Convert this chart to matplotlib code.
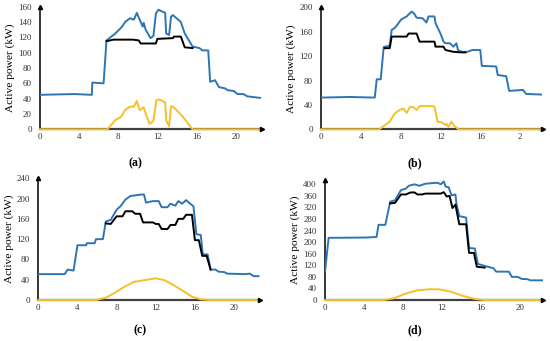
import matplotlib
matplotlib.use("Agg")
import matplotlib.pyplot as plt

plt.rcParams['font.family'] = ['Liberation Serif', 'DejaVu Serif']

# ---- data (hours, kW) ----
# panel (a)
a_t_blue = [0, 3.5, 5.3, 5.35, 6.5, 6.8, 7.7, 8.4, 8.7, 9.2, 9.6, 9.9, 10.2, 10.5, 10.6, 10.8,
            11.3, 11.6, 11.85, 12.1, 12.8, 12.9, 13.2, 13.4, 13.6, 14.4, 14.8, 15.6, 16.3, 16.6,
            17.2, 17.4, 17.9, 18.3, 18.9, 19.2, 19.8, 20.2, 20.8, 21.2, 22.5]
a_blue = [45, 46, 45, 61, 60, 116, 125, 134, 140, 145, 143, 152, 143, 134, 139, 130,
          119, 122, 151, 156, 152, 125, 123, 147, 149, 140, 125, 108, 106, 103,
          103, 62, 64, 55, 53.5, 51, 50, 46, 46, 43, 41]
a_t_black = [6.8, 7.5, 9.5, 10.1, 10.3, 11.85, 12.0, 13.6, 13.7, 14.4, 14.8, 15.6]
a_black = [115, 117, 117, 116, 112, 112, 118, 119, 121, 121, 107, 106]
a_t_pv = [0, 6.9, 7.7, 8.3, 8.7, 9.2, 9.6, 9.9, 10.2, 10.6, 10.8, 11.2, 11.6, 11.9, 12.2,
          12.8, 12.9, 13.2, 13.4, 13.6, 14.6, 15.6, 22.6]
a_pv = [0, 0, 12, 16.5, 25, 29.6, 29.6, 37, 25, 28.7, 21, 7, 11, 38, 39,
        35, 12, 4, 30, 29.6, 16.5, 0, 0]

# panel (b)
b_t_blue = [0, 2.9, 5.4, 5.6, 6.0, 6.3, 6.9, 7.1, 7.4, 7.7, 8.05, 8.6, 9.1, 9.35, 9.6, 10.2,
            10.6, 10.8, 11.4, 11.5, 12.0, 12.3, 12.5, 12.96, 13.3, 13.6, 13.76, 14.1, 14.7,
            15.2, 16.0, 16.15, 17.6, 17.75, 18.6, 18.9, 20.3, 20.6, 22.1]
b_blue = [52, 53, 52, 82, 82, 135, 137, 163, 166, 172, 180, 185, 193, 190, 183, 182,
          175, 185, 185, 174, 157, 144, 141, 141, 135.5, 141, 130, 127, 127,
          130, 130, 104, 103, 89, 87, 63, 64.5, 58, 57]
b_t_black = [6.4, 6.9, 7.1, 8.6, 8.8, 9.6, 9.9, 11.4, 11.5, 12.3, 12.5, 13.3, 14.2, 14.5]
b_black = [133, 133, 152, 152, 157, 157, 143.7, 143.7, 135.5, 135.5, 130, 127, 126, 126]
b_t_pv = [0, 5.85, 6.9, 7.4, 7.9, 8.3, 8.6, 8.96, 9.3, 9.6, 9.9, 11.2, 11.4, 11.7, 12.2,
          12.5, 12.6, 12.8, 13.1, 13.4, 13.8, 22.3]
b_pv = [0, 0, 12.5, 26, 31.7, 34, 27, 37, 36, 31.7, 38, 38, 37, 12.5, 11,
        7, 9, 4, 12.5, 5.5, 0, 0]

# panel (c)
c_t_blue = [0, 2.7, 3.0, 3.6, 4.0, 4.9, 4.95, 5.75, 5.9, 6.6, 6.9, 7.4, 8.0, 8.4, 8.9, 9.4,
            10.5, 10.8, 11.0, 11.7, 12.3, 12.6, 13.2, 13.5, 14.0, 14.3, 14.7, 15.1, 15.5,
            15.85, 16.15, 16.6, 16.8, 17.3, 17.6, 18.1, 18.4, 19.0, 19.3, 21.1, 21.6, 22.0, 22.5]
c_blue = [51, 51, 60, 58, 108, 108, 112, 112, 120, 120, 155, 158, 178, 185, 198, 205,
          208, 208, 192, 195, 195, 183, 183, 190, 186, 195, 190, 197, 190,
          185, 130, 128, 90, 90, 60, 60, 56, 55, 52, 51, 52, 47, 47]
c_t_black = [6.9, 7.4, 8.0, 8.6, 8.9, 9.6, 9.9, 10.4, 10.7, 11.7, 12.0, 12.3, 12.6, 13.2,
             13.5, 14.0, 14.3, 14.8, 15.1, 15.7, 16.0, 16.4, 16.75, 17.2, 17.6]
c_black = [151, 150, 165, 165, 175, 175, 170, 170, 153, 153, 150, 150, 140, 140,
           148, 148, 160, 160, 168, 168, 118, 118, 87, 87, 60]
c_t_pv = [0, 5.9, 6.9, 7.7, 8.8, 9.8, 10.8, 12.0, 12.9, 13.8, 14.8, 15.7, 16.6, 17.5, 22.6]
c_pv = [0, 0, 4.6, 13, 26, 36, 39, 42.7, 39, 29.5, 17.7, 6.6, 1.3, 0, 0]

# panel (d)
d_t_blue = [0, 0.37, 4.2, 5.3, 5.5, 6.2, 6.7, 7.2, 7.8, 8.3, 8.6, 9.2, 9.7, 10.3, 11.3, 11.6,
            11.9, 12.2, 12.4, 12.7, 13.0, 13.4, 13.5, 13.8, 14.5, 14.8, 15.4, 15.7, 16.2,
            16.7, 17.3, 17.6, 18.9, 19.2, 19.8, 20.2, 20.8, 21.1, 22.4]
d_blue = [98, 215, 216, 218, 260, 260, 340, 345, 380, 385, 395, 400, 395, 402, 405, 405,
          400, 410, 392, 390, 362, 365, 335, 290, 285, 180, 178, 125, 120,
          115, 110, 98, 98, 80, 80, 73, 72, 68, 68]
d_t_black = [6.7, 7.2, 7.8, 8.3, 8.8, 9.2, 9.5, 10.0, 10.3, 11.9, 12.2, 12.5, 12.8, 13.1,
             13.4, 13.8, 14.5, 14.8, 15.3, 15.6, 16.4]
d_black = [334, 336, 365, 365, 372, 372, 365, 365, 368, 368, 373, 358, 360, 318,
           330, 262, 262, 163, 163, 115, 112]
d_t_pv = [0, 6.0, 7.1, 8.2, 9.4, 10.7, 11.7, 12.9, 14.2, 15.4, 16.4, 22.4]
d_pv = [0, 0, 6, 21, 33, 37, 37, 29, 14, 3.5, 0, 0]

x_ticks = [0, 4, 8, 12, 16, 20]
x_labels_a = ['0', '4', '8', '12', '16', '20']
x_labels_b = ['0', '4', '8', '12', '16', '2']

BLUE = '#2e75b6'
GOLD = '#f5c02a'
AXIS = '#404040'

W, H = 550, 341
fig = plt.figure(figsize=(5.5, 3.41), dpi=100)


def panel(rect_px, xmax, ymax, yticks, xlabels, series, tag, tag_xy):
    """rect_px = (left, bottom_y0, right, top) in pixel coords from top-left"""
    l, b, r, t = rect_px
    ax = fig.add_axes([l / W, 1 - b / H, (r - l) / W, (b - t) / H])
    tb, vb, tk, vk, tp, vp = series
    ax.plot(tb, vb, color=BLUE, lw=1.4, zorder=3)
    ax.plot(tk, vk, color='black', lw=1.4, zorder=4)
    ax.plot(tp, vp, color=GOLD, lw=1.4, zorder=5, clip_on=False)
    ax.set_xlim(0, xmax)
    ax.set_ylim(0, ymax)
    ax.set_xticks(x_ticks)
    ax.set_xticklabels(xlabels)
    ax.set_yticks(yticks)
    ax.tick_params(length=0, labelsize=6.5, colors='#333333')
    ax.tick_params(axis='y', pad=6)
    ax.tick_params(axis='x', pad=3)
    for s in ('top', 'right'):
        ax.spines[s].set_visible(False)
    ax.spines['left'].set_color('black')
    ax.spines['left'].set_linewidth(1.1)
    ax.spines['bottom'].set_color(AXIS)
    ax.spines['bottom'].set_linewidth(1.6)
    # arrow heads
    ax.plot(1, 0, '>', color='black', ms=3, transform=ax.transAxes, clip_on=False, zorder=6)
    ax.plot(0, 1, '^', color='black', ms=3, transform=ax.transAxes, clip_on=False, zorder=6)
    ax.set_ylabel('Active power (kW)', fontsize=8.2, labelpad=2)
    fig.text(tag_xy[0] / W, 1 - tag_xy[1] / H, '(' + tag + ')', fontsize=8.5,
             ha='center', va='center', fontweight='bold')
    return ax


panel((40, 129.3, 262, 6.7), 22.7, 160, range(0, 161, 20), x_labels_a,
      (a_t_blue, a_blue, a_t_black, a_black, a_t_pv, a_pv), 'a', (135, 163))
panel((321, 129.3, 543, 7.3), 22.3, 200, range(0, 201, 40), x_labels_b,
      (b_t_blue, b_blue, b_t_black, b_black, b_t_pv, b_pv), 'b', (415, 163))
panel((38.3, 300, 260, 178.3), 22.65, 240, range(0, 241, 40), x_labels_a,
      (c_t_blue, c_blue, c_t_black, c_black, c_t_pv, c_pv), 'c', (140, 330))
panel((325, 300, 543, 180), 22.4, 415, range(0, 401, 40), x_labels_a,
      (d_t_blue, d_blue, d_t_black, d_black, d_t_pv, d_pv), 'd', (415, 330))

fig.savefig('out.png', dpi=100)
